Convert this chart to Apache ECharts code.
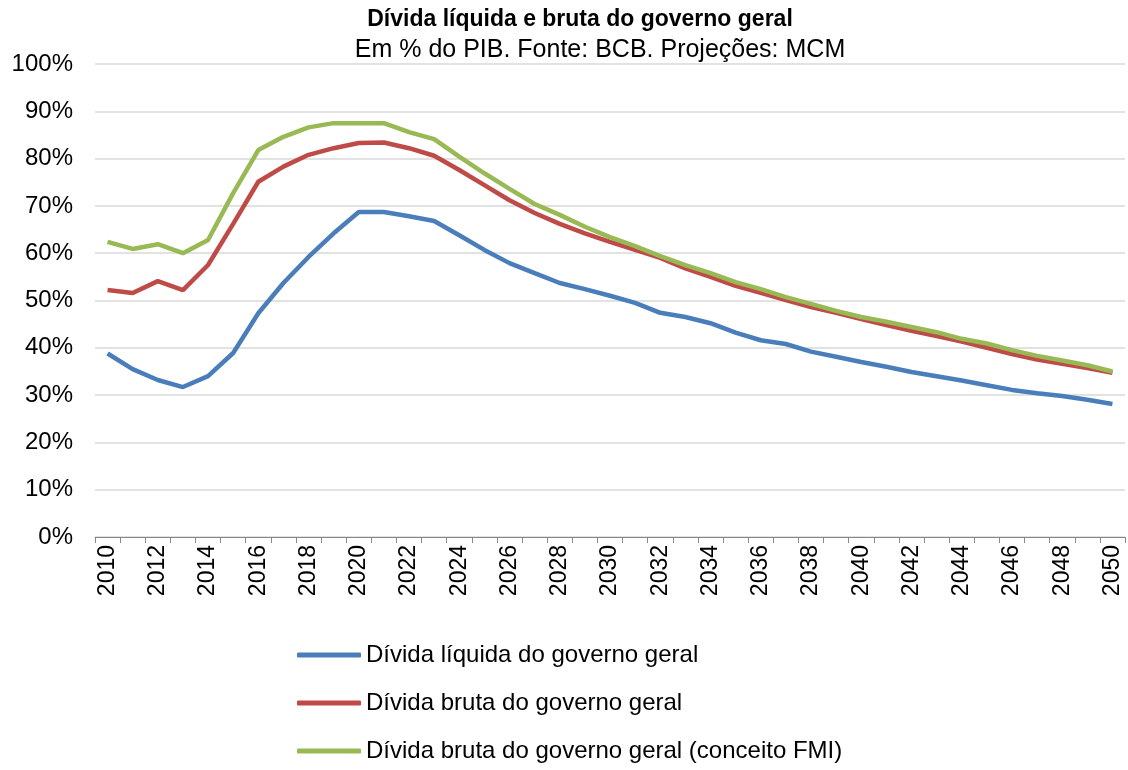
<!DOCTYPE html>
<html>
<head>
<meta charset="utf-8">
<script src="https://cdn.jsdelivr.net/npm/echarts@6/dist/echarts.min.js"></script>
<style>
  html, body { margin: 0; padding: 0; background: #fff; }
  #chart { width: 1128px; height: 770px; }
</style>
</head>
<body>
<div id="chart"></div>
<script>
// anos 2010..2050
const anos = [];
for (let a = 2010; a <= 2050; a++) anos.push(String(a));

const dividaLiquida = [38.8, 35.5, 33.2, 31.7, 34.0, 38.9, 47.3, 53.7, 59.2, 64.2, 68.7,
  68.7, 67.8, 66.8, 63.8, 60.7, 57.9, 55.8, 53.7, 52.4, 51.0,
  49.5, 47.4, 46.5, 45.2, 43.2, 41.6, 40.8, 39.2, 38.1, 37.0,
  36.0, 34.9, 34.0, 33.1, 32.1, 31.1, 30.4, 29.8, 29.0, 28.1];

const dividaBruta = [52.2, 51.6, 54.1, 52.2, 57.5, 66.2, 75.1, 78.3, 80.8, 82.2, 83.3,
  83.4, 82.2, 80.6, 77.6, 74.4, 71.2, 68.5, 66.2, 64.2, 62.4,
  60.7, 59.0, 56.8, 55.0, 53.1, 51.6, 50.1, 48.6, 47.4, 46.1,
  44.8, 43.6, 42.5, 41.3, 40.0, 38.7, 37.5, 36.6, 35.7, 34.7];

const dividaBrutaFMI = [62.4, 60.9, 61.9, 60.0, 62.8, 72.7, 81.8, 84.6, 86.6, 87.5, 87.5,
  87.5, 85.6, 84.1, 80.4, 76.9, 73.6, 70.4, 68.1, 65.6, 63.4,
  61.5, 59.4, 57.5, 55.8, 53.9, 52.4, 50.7, 49.3, 47.8, 46.5,
  45.5, 44.4, 43.3, 41.9, 40.9, 39.5, 38.3, 37.3, 36.3, 35.0];

const nomes = [
  'Dívida líquida do governo geral',
  'Dívida bruta do governo geral',
  'Dívida bruta do governo geral (conceito FMI)'
];
const cores = ['#4a7ebb', '#be4b48', '#98b954'];

const chart = echarts.init(document.getElementById('chart'));
const fonte = '"Liberation Sans", Arial, sans-serif';

function serie(nome, dados, cor) {
  return {
    name: nome,
    type: 'line',
    data: dados,
    symbol: 'none',
    smooth: false,
    lineStyle: { width: 4.5, color: cor },
    itemStyle: { color: cor }
  };
}

chart.setOption({
  animation: false,
  textStyle: { fontFamily: fonte },
  title: [
    {
      text: 'Dívida líquida e bruta do governo geral',
      left: 580,
      textAlign: 'center',
      top: 8,
      padding: 0,
      textStyle: { fontSize: 23, fontWeight: 'bold', color: '#000', fontFamily: fonte }
    },
    {
      text: 'Em % do PIB. Fonte: BCB. Projeções: MCM',
      left: 600,
      textAlign: 'center',
      top: 38,
      padding: 0,
      textStyle: { fontSize: 25, fontWeight: 'normal', color: '#000', fontFamily: fonte }
    }
  ],
  grid: { left: 95, right: 3, top: 64, bottom: 233, containLabel: false },
  legend: {
    orient: 'vertical',
    left: 297,
    top: 643,
    padding: 0,
    itemGap: 24,
    itemWidth: 64,
    itemHeight: 5,
    icon: 'roundRect',
    data: nomes,
    textStyle: { fontSize: 24, color: '#000', fontFamily: fonte }
  },
  xAxis: {
    type: 'category',
    data: anos,
    boundaryGap: true,
    axisLine: { lineStyle: { color: '#888', width: 1 } },
    axisTick: { show: true, interval: 0, length: 6, lineStyle: { color: '#888' } },
    axisLabel: { interval: 1, rotate: 90, fontSize: 23, color: '#000', margin: 8, fontFamily: fonte },
    splitLine: { show: false }
  },
  yAxis: {
    type: 'value',
    min: 0,
    max: 100,
    interval: 10,
    axisLine: { show: false },
    axisTick: { show: false },
    axisLabel: { formatter: '{value}%', fontSize: 24, color: '#000', margin: 22, fontFamily: fonte },
    splitLine: { lineStyle: { color: '#d9d9d9', width: 1.5 } }
  },
  series: [
    serie(nomes[0], dividaLiquida, cores[0]),
    serie(nomes[1], dividaBruta, cores[1]),
    serie(nomes[2], dividaBrutaFMI, cores[2])
  ]
});
</script>
</body>
</html>
